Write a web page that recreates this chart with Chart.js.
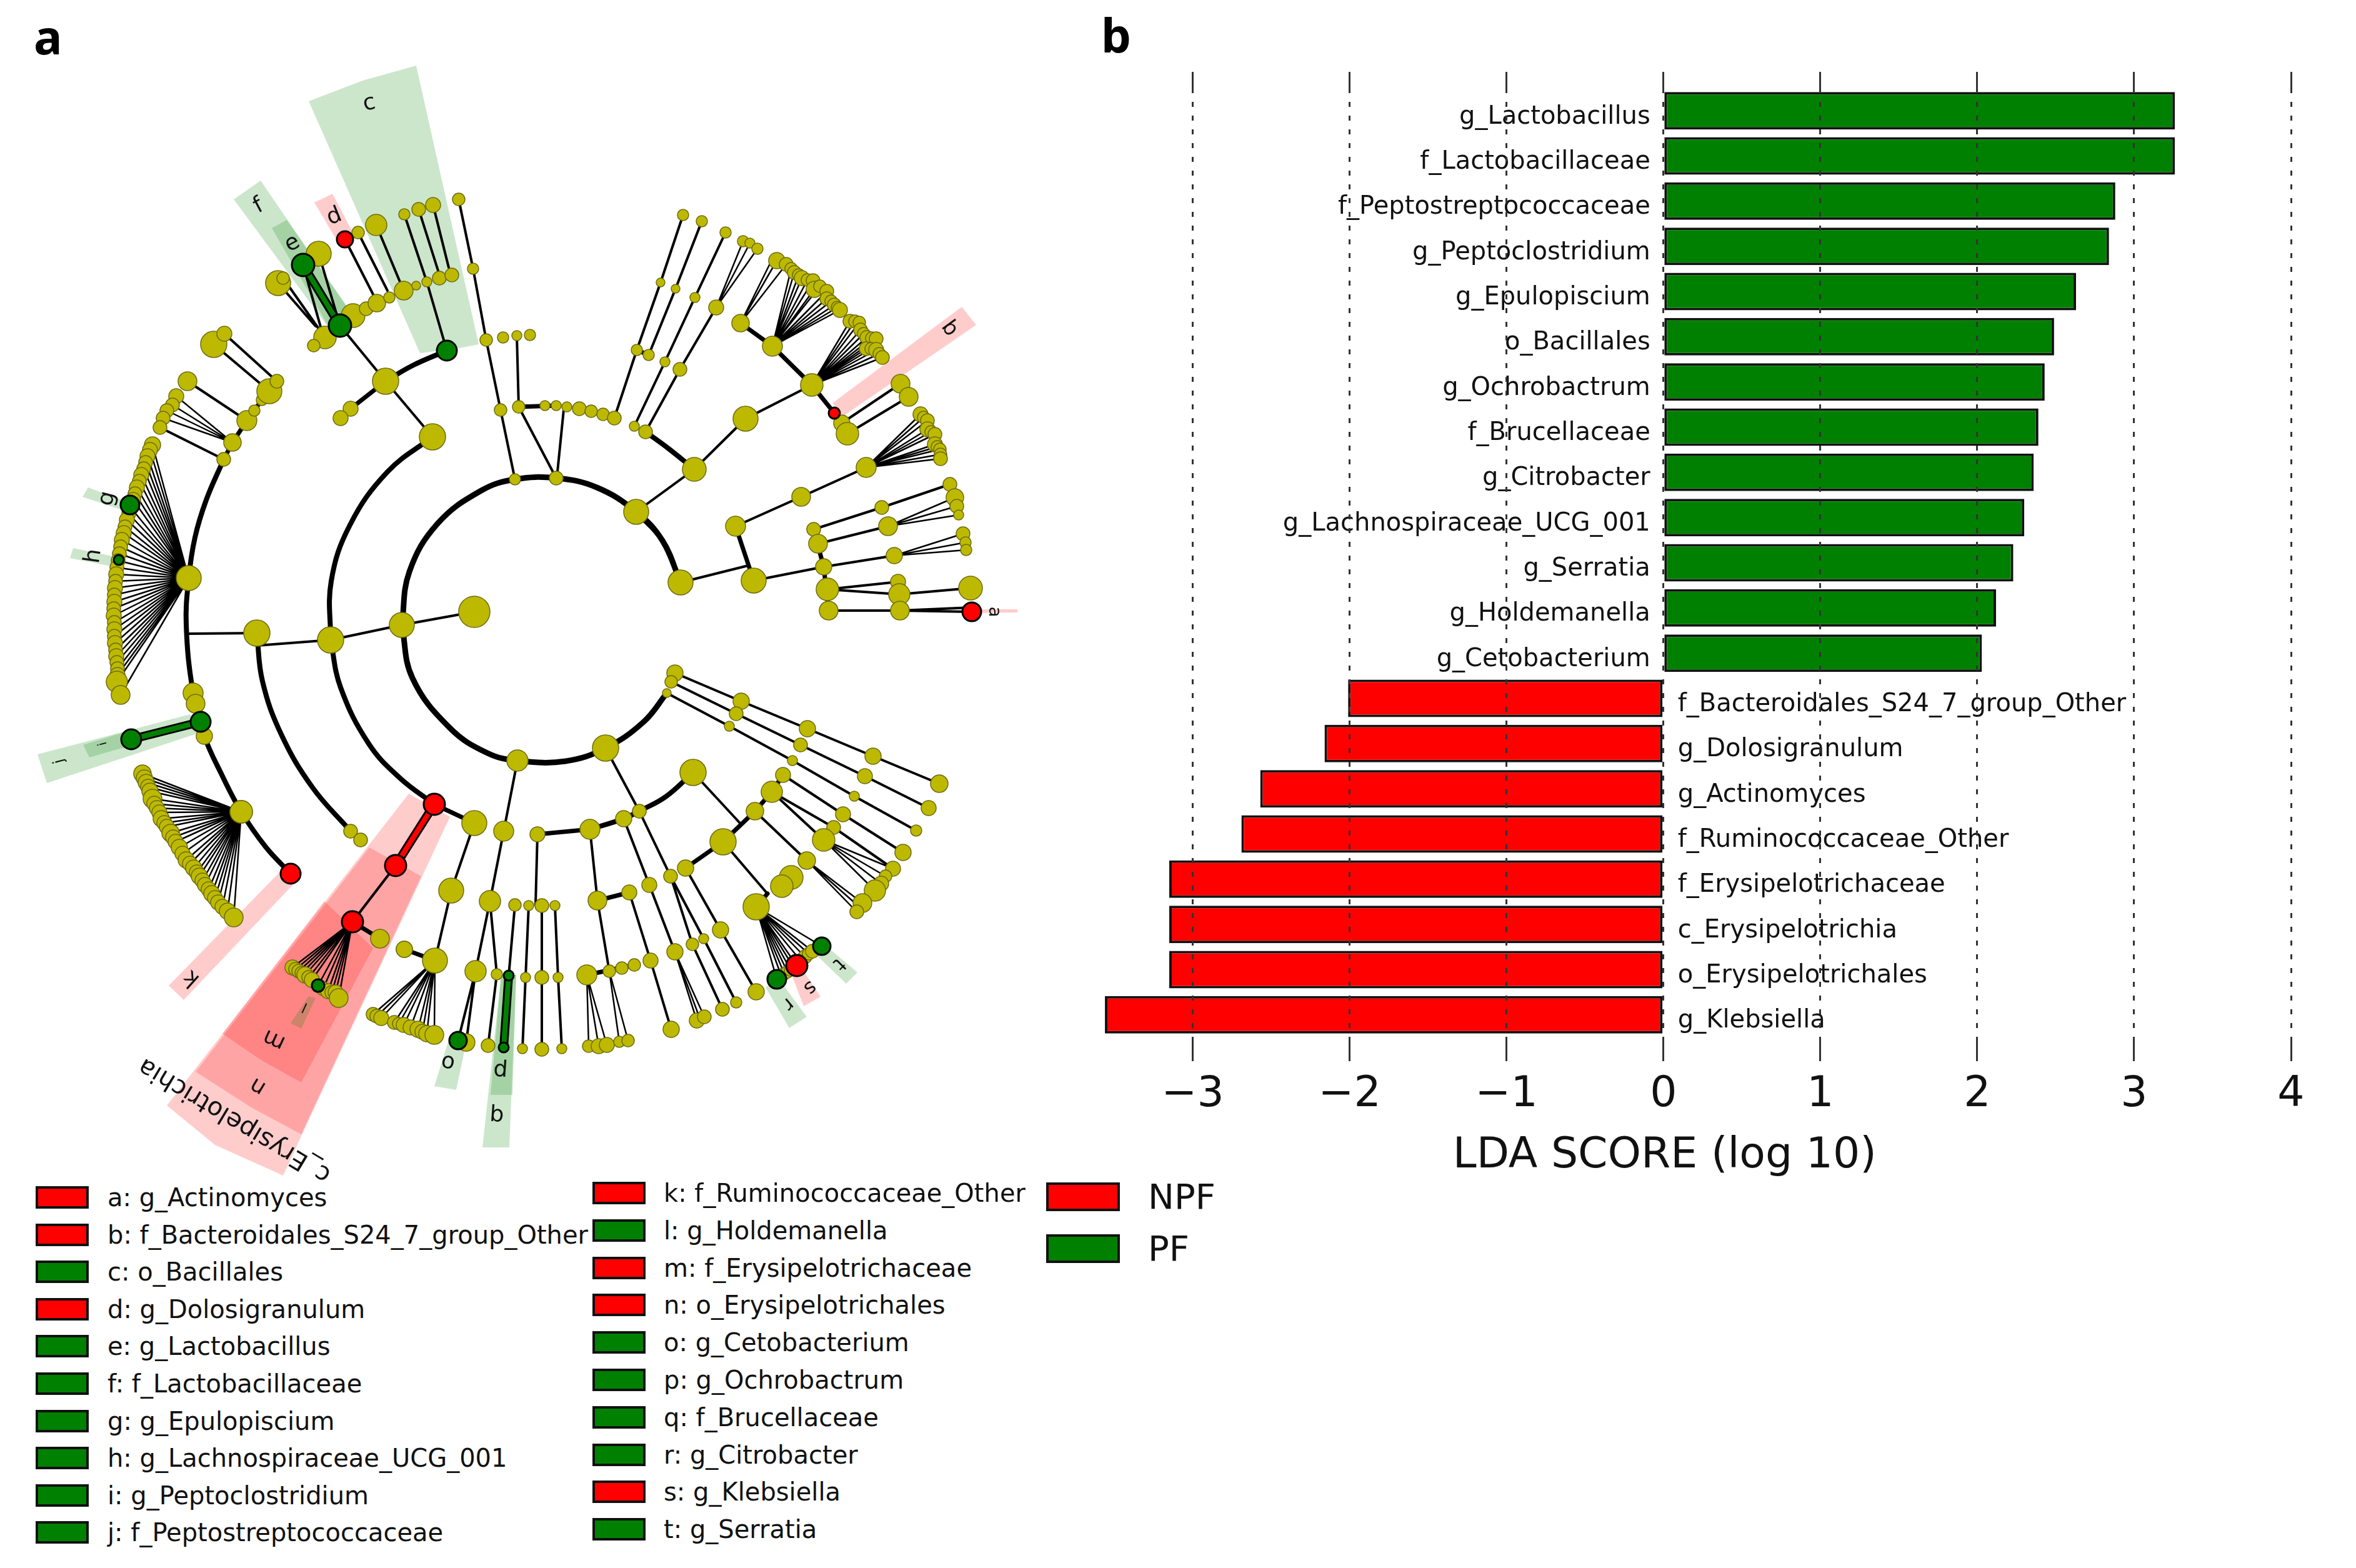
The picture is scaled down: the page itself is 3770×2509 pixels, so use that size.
<!DOCTYPE html>
<html>
<head>
<meta charset="utf-8">
<title>LEfSe cladogram and LDA scores</title>
<script src="https://cdn.jsdelivr.net/npm/chart.js@4"></script>
<style>
    html, body { margin: 0; padding: 0; background: #fff; }
    body { position: relative; width: 3770px; height: 2509px; overflow: hidden; font-family: "DejaVu Sans", sans-serif; color: #111; }
    canvas { position: absolute; }
    .panel { position: absolute; font: 700 76px "Noto Sans", sans-serif; line-height: 1; color: #000; }
    .swatch { position: absolute; box-sizing: border-box; border: 4px solid #111; }
    .key { position: absolute; font-size: 40px; line-height: 40px; white-space: nowrap; }
    .group { position: absolute; font-size: 56px; line-height: 56px; white-space: nowrap; }
</style>
</head>
<body>

<span class="panel" style="left:54px;top:20px">a</span>
<span class="panel" style="left:1762px;top:17px">b</span>

<canvas id="cladogram" width="1690" height="1890" style="left:0;top:0"></canvas>
<canvas id="ldaChart" width="2070" height="1900" style="left:1700px;top:0"></canvas>

<script>

/* =========================
   LDA SCORES (PANEL B)
========================= */

const taxa = [
    "g_Lactobacillus", "f_Lactobacillaceae", "f_Peptostreptococcaceae", "g_Peptoclostridium",
    "g_Epulopiscium", "o_Bacillales", "g_Ochrobactrum", "f_Brucellaceae", "g_Citrobacter",
    "g_Lachnospiraceae_UCG_001", "g_Serratia", "g_Holdemanella", "g_Cetobacterium",
    "f_Bacteroidales_S24_7_group_Other", "g_Dolosigranulum", "g_Actinomyces",
    "f_Ruminococcaceae_Other", "f_Erysipelotrichaceae", "c_Erysipelotrichia",
    "o_Erysipelotrichales", "g_Klebsiella"
];

const ldaScores = [
    3.26, 3.26, 2.88, 2.84, 2.63, 2.49, 2.43, 2.39, 2.36, 2.30, 2.23, 2.12, 2.03,
    -2.01, -2.16, -2.57, -2.69, -3.15, -3.15, -3.15, -3.56
];

const tickValues = [-3, -2, -1, 0, 1, 2, 3, 4];
const tickLabels = ["\u22123", "\u22122", "\u22121", "0", "1", "2", "3", "4"];

const axisTitle = "LDA SCORE (log 10)";

/* =========================
   LEGENDS
========================= */

const legendLeft = [
    ["a: g_Actinomyces", "NPF"], ["b: f_Bacteroidales_S24_7_group_Other", "NPF"], ["c: o_Bacillales", "PF"],
    ["d: g_Dolosigranulum", "NPF"], ["e: g_Lactobacillus", "PF"], ["f: f_Lactobacillaceae", "PF"],
    ["g: g_Epulopiscium", "PF"], ["h: g_Lachnospiraceae_UCG_001", "PF"], ["i: g_Peptoclostridium", "PF"],
    ["j: f_Peptostreptococcaceae", "PF"]
];

const legendRight = [
    ["k: f_Ruminococcaceae_Other", "NPF"], ["l: g_Holdemanella", "PF"], ["m: f_Erysipelotrichaceae", "NPF"],
    ["n: o_Erysipelotrichales", "NPF"], ["o: g_Cetobacterium", "PF"], ["p: g_Ochrobactrum", "PF"],
    ["q: f_Brucellaceae", "PF"], ["r: g_Citrobacter", "PF"], ["s: g_Klebsiella", "NPF"], ["t: g_Serratia", "PF"]
];

const groupNames = ["NPF", "PF"];

/* =========================
   CLADOGRAM NODES [x, y, size]
========================= */

const rootNodes = [
    [759,979,25], [643,1000,20], [529,1024,21], [411,1013,21], [302,925,20], [386,1299,18],
    [692,699,21], [617,610,21], [561,654,12], [545,669,12], [1018,819,20], [1089,932,20],
    [1111,751,19], [969,1197,21], [828,1217,17], [759,1317,20], [722,1425,20], [696,1537,20],
    [647,1519,13], [608,1502,15], [806,1330,16], [784,1442,17], [761,1554,17], [860,1335,12],
    [944,1327,16], [998,1310,13], [1023,1298,11], [1109,1236,21]
];

const topLeftNodes = [
    [358,735,11], [372,708,14], [395,673,16], [407,657,9], [419,640,9], [431,626,20], [443,610,11],
    [342,551,21], [359,534,12], [300,610,15], [282,634,12], [276,648,11], [267,657,11], [261,669,11], [256,684,11],
    [510,406,20], [445,453,20], [453,445,10], [520,540,18], [502,553,10], [565,505,19], [586,494,11],
    [603,485,14], [623,476,9], [646,465,15], [666,457,7], [683,451,8], [703,445,11], [723,440,11],
    [647,343,9], [670,335,11], [693,328,12], [602,360,17], [573,372,10], [734,319,10], [757,430,9],
    [778,544,10], [801,656,10], [824,767,9], [890,765,11]
];

const leftFanLeaves = [
    [244,712,13], [240,720,12], [236,730,12], [233,740,11], [230,750,11], [226,760,12], [223,770,11], [219,780,12],
    [216,790,11], [213,800,12], [209,812,12], [206,822,11], [203,832,12], [200,843,11], [198,853,12], [195,864,12],
    [193,875,11], [191,886,11], [189,897,11], [187,908,11], [186,919,12], [185,930,11], [184,941,12], [183,952,11],
    [183,963,12], [182,974,11], [182,985,12], [183,996,11], [183,1007,12], [183,1018,11], [184,1029,12], [185,1040,11],
    [186,1050,12], [187,1060,11], [188,1070,11], [188,1080,12], [187,1091,17], [193,1112,15]
];

const lowerFanLeaves = [
    [228,1238,14], [231,1245,13], [234,1252,13], [237,1259,12], [240,1266,13], [244,1278,15], [247,1286,12], [251,1293,12],
    [255,1300,12], [258,1310,13], [263,1317,12], [267,1323,12], [273,1333,14], [277,1340,12], [281,1347,12], [287,1356,13],
    [292,1366,12], [298,1376,13], [304,1382,12], [310,1389,13], [315,1396,12], [319,1402,13], [324,1409,12], [328,1416,12],
    [334,1423,12], [339,1430,13], [344,1437,12], [349,1444,12], [356,1451,12], [364,1458,13], [374,1468,15]
];

const ringThreeNodes = [
    [309,1109,16], [313,1126,15], [327,1178,13], [386,1299,18], [561,1330,11], [577,1344,11]
];

const topRightNodes = [
    [830,651,10], [805,540,9], [827,537,8], [848,536,9], [872,649,8], [890,649,8], [907,651,8], [927,654,11],
    [946,658,10], [965,663,10], [983,669,11], [1015,682,8], [1033,691,11], [1093,344,9], [1057,452,7],
    [1019,560,9], [1038,568,9], [1081,462,7], [1123,354,9], [1064,579,8], [1112,476,8], [1161,372,9],
    [1088,591,11], [1146,492,12], [1189,386,9], [1200,389,8], [1212,398,9], [1193,670,20], [1299,616,18],
    [1236,554,16], [1185,517,14], [1347,677,13], [1356,694,18], [1441,614,15], [1454,635,15]
];

const topRightLeaves = [
    [1243,417,13], [1258,423,11], [1266,430,10], [1271,436,11], [1278,440,10], [1283,445,12], [1292,448,10], [1301,449,11],
    [1303,463,13], [1312,458,10], [1323,466,11], [1323,478,11], [1330,482,10], [1335,488,11], [1340,492,10], [1344,496,12]
];

const shoulderLeaves = [
    [1360,514,11], [1368,514,10], [1375,516,10], [1377,528,11], [1382,534,10], [1387,540,11], [1395,541,10], [1402,542,11],
    [1386,558,11], [1394,558,10], [1402,560,12], [1407,566,10], [1412,572,11]
];

const rightNodes = [
    [1206,929,20], [1177,842,16], [1282,795,15], [1386,748,16], [1302,847,11], [1309,870,15], [1318,907,13],
    [1324,943,18], [1326,977,15], [1411,812,11], [1421,842,15], [1431,889,13], [1437,931,12], [1439,951,17],
    [1440,977,15], [1520,775,11], [1528,796,14], [1531,810,11], [1534,824,8], [1541,854,11], [1545,868,9],
    [1546,880,9], [1553,941,19]
];

const rightFanLeaves = [
    [1473,663,12], [1478,668,10], [1484,673,11], [1484,687,12], [1490,691,10], [1496,695,11], [1496,711,12], [1500,715,10],
    [1504,719,10], [1505,727,10], [1505,734,11]
];

const lowerRightNodes = [
    [1080,1077,13], [1074,1091,10], [1067,1109,7], [1186,1122,13], [1178,1142,11], [1167,1162,8], [1292,1166,13],
    [1281,1192,11], [1268,1217,8], [1397,1210,13], [1384,1242,12], [1367,1274,8], [1503,1254,14], [1486,1293,12],
    [1466,1329,9], [1253,1240,12], [1235,1267,17], [1208,1298,14], [1157,1347,21], [1097,1389,13], [1073,1402,11],
    [1349,1303,12], [1445,1364,13], [1334,1324,11], [1429,1390,12], [1318,1344,18], [1417,1402,10], [1410,1414,12],
    [1400,1425,17], [1291,1377,14], [1380,1445,15], [1371,1459,11], [1266,1404,19], [1251,1418,18], [1210,1451,21]
];

const bottomFanLeaves = [
    [1250,1561,10], [1255,1558,10], [1260,1555,10], [1265,1552,10], [1270,1548,10], [1282,1538,10], [1288,1531,11],
    [1294,1526,10], [1300,1522,11]
];

const bottomNodes = [
    [1126,1502,8], [1178,1604,9], [1108,1511,10], [1156,1615,11], [1039,1416,12], [1080,1523,13], [1115,1633,12],
    [1127,1627,11], [1153,1488,13], [1210,1587,13], [956,1441,15], [1007,1428,12], [1041,1537,12], [1074,1647,13],
    [975,1554,10], [939,1560,16], [995,1549,10], [1015,1544,10], [942,1674,10], [958,1674,12], [971,1672,12],
    [991,1667,9], [1005,1665,10], [824,1448,10], [846,1449,8], [867,1449,11], [888,1449,8], [841,1564,8],
    [867,1564,11], [893,1564,8], [836,1678,8], [867,1679,11], [899,1678,8], [795,1559,9], [781,1673,11], [746,1668,14]
];

const ringTwoLowerNodes = [
    [647,1519,13], [597,1623,11], [603,1626,11], [610,1629,12], [631,1636,11], [638,1638,10], [646,1640,12],
    [657,1644,12], [669,1647,13], [676,1651,12], [683,1654,13], [695,1656,15]
];

const redFanLeaves = [
    [468,1548,12], [473,1551,11], [478,1554,11], [483,1557,11], [488,1560,13], [494,1564,11], [499,1568,12],
    [517,1582,11], [525,1586,12], [531,1588,11], [537,1588,12], [542,1597,15]
];

/* biomarkers */
const npfNodes = [
    [1555,979,15], [1335,661,9], [552,383,13], [465,1398,16], [695,1287,17], [633,1385,17], [564,1475,17], [1275,1545,17]
];
const pfNodes = [
    [715,561,16], [485,424,18], [544,521,18], [208,808,15], [190,896,8], [210,1183,16], [321,1155,16], [509,1577,10],
    [733,1665,14], [814,1561,8], [806,1676,8], [1243,1567,15], [1315,1514,14]
];

/* =========================
   CLADOGRAM BRANCHES
========================= */

const ringOnePaths = [
    [[643,1000],[655,915],[700,838],[770,785],[824,767],[890,765],[955,780],[1018,819],[1060,865],[1089,932]],
    [[643,1000],[660,1085],[720,1165],[780,1205],[828,1217],[905,1218],[969,1197],[1030,1155],[1067,1109]]
];

const ringPaths = [
    [[692,699],[620,755],[560,840],[530,930],[529,1024]],
    [[529,1024],[545,1100],[590,1190],[640,1245],[695,1287]],
    [[411,1013],[420,1090],[450,1175],[500,1260],[561,1330]],
    [[358,735],[330,800],[312,860],[302,925],[298,1000],[309,1109],[327,1178],[355,1240],[386,1299],[425,1355],[465,1398]],
    [[617,610],[660,585],[715,561]],
    [[944,1327],[998,1310],[1023,1298]],
    [[1023,1298],[1065,1275],[1109,1236]],
    [[1018,819],[1060,865],[1089,932]],
    [[1111,751],[1070,718],[1033,691]]
];

const thickPaths = [
    [[545,669],[561,654],[617,610]], [[358,735],[372,708],[395,673],[419,640],[443,610]],
    [[830,651],[890,649]], [[1299,616],[1236,554],[1185,517]], [[1299,616],[1335,661]],
    [[1177,842],[1206,929]], [[1302,847],[1318,907],[1326,977]], [[860,1335],[944,1327]],
    [[1097,1389],[1157,1347],[1208,1298],[1235,1267],[1253,1240]], [[956,1441],[1007,1428]],
    [[939,1560],[1015,1544]], [[564,1475],[608,1502]], [[696,1537],[647,1519]], [[695,1287],[759,1317]],
    [[1228,1430],[1210,1451]], [[1019,560],[1038,568]]
];

const thinPaths = [
    [[759,979],[643,1000]], [[643,1000],[529,1024]], [[529,1024],[411,1033]], [[411,1013],[302,1014]],
    [[692,699],[617,610]], [[617,610],[544,521]], [[544,521],[510,406]], [[715,561],[683,451],[647,343]],
    [[701,433],[670,335]], [[718,428],[693,328]], [[640,451],[602,360]], [[620,465],[573,372]], [[597,471],[552,383]],
    [[505,522],[445,453]], [[510,526],[453,445]], [[515,530],[485,424]],
    [[395,673],[300,610]], [[431,626],[342,551]], [[443,610],[359,534]], [[358,735],[256,684]],
    [[824,767],[801,656],[778,544],[757,430],[734,319]], [[890,765],[830,651],[827,537]], [[902,656],[891,765]],
    [[983,669],[1019,560],[1057,452],[1093,344]], [[1038,568],[1081,462],[1123,354]], [[1015,682],[1064,579],[1112,476],[1161,372]],
    [[1033,691],[1088,591],[1146,492]], [[1018,819],[1111,751],[1193,670],[1299,616]], [[1347,677],[1441,614]], [[1356,694],[1454,635]],
    [[1089,932],[1197,905]], [[1206,929],[1318,907]], [[1177,842],[1282,795],[1386,748]],
    [[1302,847],[1411,812],[1520,775]], [[1309,870],[1421,842]], [[1318,907],[1431,889]], [[1324,943],[1437,931]],
    [[1324,943],[1439,951],[1553,941]], [[1326,977],[1440,977],[1555,979]], [[1440,977],[1555,972]],
    [[1080,1077],[1186,1122],[1292,1166],[1397,1210],[1503,1254]], [[1074,1091],[1178,1142],[1281,1192],[1384,1242],[1486,1293]],
    [[1067,1109],[1167,1162],[1268,1217],[1367,1274],[1466,1329]],
    [[969,1197],[1023,1298]], [[1109,1236],[1184,1317]], [[1157,1347],[1228,1430]],
    [[1253,1240],[1349,1303],[1445,1364]], [[1235,1267],[1334,1324],[1429,1390]], [[1235,1267],[1318,1344]], [[1208,1298],[1291,1377]],
    [[1023,1298],[1073,1402],[1126,1502],[1178,1604]], [[1023,1298],[1073,1402],[1108,1511],[1156,1615]],
    [[998,1310],[1039,1416],[1080,1523]], [[1097,1389],[1153,1488],[1210,1587]],
    [[944,1327],[956,1441],[975,1554]], [[1007,1428],[1041,1537],[1074,1647]],
    [[860,1335],[857,1448]], [[824,1448],[814,1561]], [[846,1449],[841,1564],[836,1678]], [[867,1449],[867,1564],[867,1679]], [[888,1449],[893,1564],[899,1678]],
    [[828,1217],[806,1330],[784,1442],[761,1554],[733,1665]], [[761,1554],[746,1668]], [[784,1442],[795,1559],[781,1673]],
    [[759,1317],[722,1425],[696,1537]], [[633,1385],[564,1475]]
];

/* fans: [parent x, parent y, leaf group] */
const fanLines = [
    [302,925,leftFanLeaves], [386,1299,lowerFanLeaves],
    [372,708,[[282,634],[276,648],[267,657],[261,669]]],
    [564,1475,redFanLeaves.concat([[509,1577]])],
    [696,1537,ringTwoLowerNodes.slice(1)],
    [1236,554,topRightLeaves.slice(2)],
    [1185,517,[[1243,417],[1258,423],[1233,420]]],
    [1299,616,shoulderLeaves],
    [1386,748,rightFanLeaves],
    [1421,842,[[1528,796],[1531,810],[1534,824]]],
    [1431,889,[[1541,854],[1545,868],[1546,880]]],
    [1146,492,[[1189,386],[1200,389],[1212,398]]],
    [1291,1377,[[1380,1445],[1371,1459],[1376,1452]]],
    [1318,1344,[[1429,1390],[1417,1402],[1410,1414],[1400,1425]]],
    [1080,1523,[[1115,1633],[1127,1627],[1120,1630]]],
    [939,1560,[[942,1674],[958,1674],[971,1672]]],
    [975,1554,[[991,1667],[1005,1665]]],
    [1210,1451,bottomFanLeaves.concat([[1243,1567],[1275,1545],[1315,1514]])]
];

const pfBranches = [[[485,424],[544,521]], [[321,1155],[210,1183]], [[814,1561],[806,1676]]];
const npfBranches = [[[695,1287],[633,1385]]];

/* =========================
   SHADED CLADES
========================= */

const pfShades = [
    [[494,162],[580,129],[666,105],[766,551],[735,557],[672,565]],
    [[374,319],[417,289],[565,505],[530,530]],
    [[435,365],[459,352],[565,505],[530,530]],
    [[132,795],[141,780],[198,801],[192,815]],
    [[112,893],[117,877],[190,892],[188,908]],
    [[60,1207],[75,1253],[321,1172],[304,1143]],
    [[133,1192],[143,1212],[212,1192],[204,1170]],
    [[465,1637],[482,1646],[505,1597],[494,1594]],
    [[695,1738],[730,1744],[746,1668],[718,1664]],
    [[772,1836],[815,1836],[826,1560],[802,1560]],
    [[785,1752],[820,1752],[826,1560],[802,1560]],
    [[1263,1645],[1291,1627],[1245,1565],[1225,1580]],
    [[1354,1574],[1372,1556],[1320,1512],[1304,1526]]
];

const npfShades = [
    [[503,324],[532,310],[565,373],[542,390]],
    [[1539,491],[1562,520],[1349,666],[1332,645]],
    [[1555,975],[1628,975],[1628,980],[1555,981]],
    [[270,1577],[294,1600],[476,1408],[453,1390]],
    [[654,1270],[720,1307],[482,1818],[453,1881],[344,1832],[267,1769]],
    [[591,1356],[674,1402],[482,1815],[402,1772],[313,1715]],
    [[519,1442],[597,1517],[482,1732],[419,1697],[356,1654]],
    [[1286,1610],[1313,1595],[1280,1545],[1265,1555]]
];

const cladeLetters = [
    ["c",591,166,-11,36], ["f",414,330,-28,36], ["e",468,390,-28,36], ["d",535,347,-22,36], ["g",172,798,-76,36],
    ["h",150,890,-82,36], ["j",95,1218,-105,24], ["i",165,1190,-105,20], ["k",307,1565,222,36], ["l",488,1611,205,22],
    ["m",439,1663,205,36], ["n",413,1738,211,36], ["c_Erysipelotrichia",376,1792,211,40], ["o",717,1699,190,36],
    ["p",801,1712,184,36], ["q",795,1784,184,36], ["r",1261,1606,140,32], ["s",1296,1580,140,32], ["t",1342,1542,135,32],
    ["b",1519,526,54,34], ["a",1590,979,90,28]
];

/* =========================
   COLOURS
========================= */

const npfColor = "#ff0000";
const pfColor = "#008000";
const nodeColor = "#bdb900";

/* =========================
   HELPERS
========================= */

function toPoints(nodes) {

    return nodes.map(n => ({ x: n[0], y: n[1], r: n[2] }));

}

function breakPaths(paths) {

    const points = [];

    paths.forEach(path => {

        path.forEach(p => points.push({ x: p[0], y: p[1] }));

        points.push({ x: null, y: null });

    });

    return points;

}

function fanPaths() {

    const paths = [];

    fanLines.forEach(fan => {

        fan[2].forEach(leaf => paths.push([[fan[0], fan[1]], leaf]));

    });

    return paths;

}

function lineSet(paths, color, width, order, tension) {

    return {
        data: breakPaths(paths),
        showLine: true,
        borderColor: color,
        borderWidth: width,
        pointRadius: 0,
        tension: tension || 0,
        borderCapStyle: "round",
        order: order
    };

}

function shadeSets(shapes, color) {

    return shapes.map(shape => ({
        data: toPoints(shape),
        showLine: true,
        fill: "shape",
        backgroundColor: color,
        borderWidth: 0,
        pointRadius: 0,
        order: 10
    }));

}

function nodeSet(nodes, fillColor, edgeColor, edgeWidth, order) {

    return {
        data: toPoints(nodes),
        backgroundColor: fillColor,
        borderColor: edgeColor,
        borderWidth: edgeWidth,
        pointRadius: c => c.raw.r,
        order: order
    };

}

/* =========================
   CLADOGRAM (PANEL A)
========================= */

const letterPlugin = {

    id: "letterPlugin",

    afterDatasetsDraw(chart) {

        const ctx = chart.ctx;

        cladeLetters.forEach(item => {

            ctx.save();
            ctx.translate(chart.scales.x.getPixelForValue(item[1]), chart.scales.y.getPixelForValue(item[2]));
            ctx.rotate(item[3] * Math.PI / 180);
            ctx.font = item[4] + 'px "DejaVu Sans"';
            ctx.fillStyle = "#111";
            ctx.textAlign = "center";
            ctx.textBaseline = "middle";
            ctx.fillText(item[0], 0, 0);
            ctx.restore();

        });

    }

};

const yellowNodes = [].concat(
    rootNodes, topLeftNodes, leftFanLeaves, lowerFanLeaves, ringThreeNodes, topRightNodes, topRightLeaves,
    shoulderLeaves, rightNodes, rightFanLeaves, lowerRightNodes, bottomFanLeaves, bottomNodes,
    ringTwoLowerNodes, redFanLeaves
);

new Chart(document.getElementById("cladogram"), {

    type: "scatter",

    data: {

        datasets: [
            ...shadeSets(pfShades, "rgba(0,128,0,0.2)"),
            ...shadeSets(npfShades, "rgba(255,0,0,0.2)"),
            lineSet(fanPaths(), "#000", 2.5, 9),
            lineSet(thinPaths, "#000", 4, 8),
            lineSet(thickPaths, "#000", 7, 7),
            lineSet(ringPaths, "#000", 8, 7, 0.4),
            lineSet(ringOnePaths, "#000", 9, 7, 0.4),
            lineSet(pfBranches, "#000", 14, 6),
            lineSet(pfBranches, pfColor, 8, 5),
            lineSet(npfBranches, "#000", 14, 6),
            lineSet(npfBranches, npfColor, 8, 5),
            nodeSet(yellowNodes, nodeColor, "#6f6c10", 1.5, 4),
            nodeSet(npfNodes, npfColor, "#000", 3, 2),
            nodeSet(pfNodes, pfColor, "#000", 3, 3)
        ]

    },

    options: {

        responsive: false,
        animation: false,
        devicePixelRatio: 1,
        events: [],
        layout: { padding: 0, autoPadding: false },

        scales: {

            x: { type: "linear", min: 0, max: 1690, display: false },
            y: { type: "linear", min: 0, max: 1890, reverse: true, display: false }

        },

        plugins: {

            legend: { display: false },
            tooltip: { enabled: false }

        }

    },

    plugins: [letterPlugin]

});

/* =========================
   BAR CHART (PANEL B)
========================= */

const barLabelPlugin = {

    id: "barLabelPlugin",

    afterDatasetsDraw(chart) {

        const ctx = chart.ctx;
        const zero = chart.scales.x.getPixelForValue(0);

        ctx.save();
        ctx.font = '40px "DejaVu Sans"';
        ctx.fillStyle = "#111";
        ctx.textBaseline = "middle";

        taxa.forEach((name, i) => {

            const y = chart.scales.y.getPixelForValue(i) + 10;

            ctx.textAlign = ldaScores[i] > 0 ? "right" : "left";
            ctx.fillText(name, ldaScores[i] > 0 ? zero - 21 : zero + 23, y);

        });

        // axis title sits on the zero line, not the middle of the axis
        ctx.font = '68px "DejaVu Sans"';
        ctx.textAlign = "center";
        ctx.fillText(axisTitle, zero + 2, chart.scales.x.bottom - 50);

        ctx.restore();

    }

};

function useTicks(axis) {

    axis.ticks = tickValues.map(value => ({ value }));

}

const dottedGrid = {
    color: "#333",
    lineWidth: 3,
    tickColor: "#333",
    tickBorderDash: [],
    tickLength: 38,
    z: 1
};

new Chart(document.getElementById("ldaChart"), {

    type: "bar",

    data: {

        labels: taxa,

        datasets: [{

            data: ldaScores,
            xAxisID: "x",
            backgroundColor: ldaScores.map(v => v > 0 ? pfColor : npfColor),
            borderColor: "#111",
            borderWidth: 4,
            borderSkipped: false,
            barPercentage: 0.83,
            categoryPercentage: 1

        }]

    },

    options: {

        indexAxis: "y",
        responsive: false,
        animation: false,
        devicePixelRatio: 1,
        events: [],

        layout: { padding: { left: 58, right: 104, top: 102, bottom: 0 } },

        scales: {

            x: {

                type: "linear",
                position: "bottom",
                min: -3.6,
                max: 4,
                afterBuildTicks: useTicks,
                afterFit: axis => { axis.height = 240; },
                border: { display: false, dash: [8, 14] },
                grid: dottedGrid,

                ticks: {

                    color: "#111",
                    autoSkip: false,
                    maxRotation: 0,
                    padding: 14,
                    font: { family: "DejaVu Sans", size: 68 },
                    callback: value => tickLabels[tickValues.indexOf(value)]

                }

            },

            top: {

                type: "linear",
                position: "top",
                min: -3.6,
                max: 4,
                afterBuildTicks: useTicks,
                afterFit: axis => { axis.height = 39; },
                border: { display: false },
                grid: { drawOnChartArea: false, color: "#333", lineWidth: 3, tickLength: 39, tickBorderDash: [0, 13, 26, 0] },
                ticks: { display: false }

            },

            y: { display: false, grid: { display: false } }

        },

        plugins: {

            legend: { display: false },
            tooltip: { enabled: false }

        }

    },

    plugins: [barLabelPlugin]

});

/* =========================
   HTML LEGENDS
========================= */

function addEl(cls, text, css) {

    const el = document.createElement("div");

    el.className = cls;
    el.textContent = text;
    el.style.cssText = css;

    document.body.appendChild(el);

}

function addLegendColumn(rows, swatchX, textX, startY, step) {

    rows.forEach((row, i) => {

        const y = startY + i * step;
        const color = row[1] === "NPF" ? npfColor : pfColor;

        addEl("swatch", "", `left:${swatchX}px;top:${y - 18}px;width:85px;height:36px;background:${color}`);
        addEl("key", row[0], `left:${textX}px;top:${y - 20}px`);

    });

}

addLegendColumn(legendLeft, 57, 172, 1916, 59.6);
addLegendColumn(legendRight, 948, 1062, 1909, 59.8);

groupNames.forEach((name, i) => {

    const y = 1915 + i * 83;

    addEl("swatch", "", `left:1674px;top:${y - 23}px;width:118px;height:46px;background:${i === 0 ? npfColor : pfColor}`);
    addEl("group", name, `left:1837px;top:${y - 28}px`);

});

</script>
</body>
</html>
